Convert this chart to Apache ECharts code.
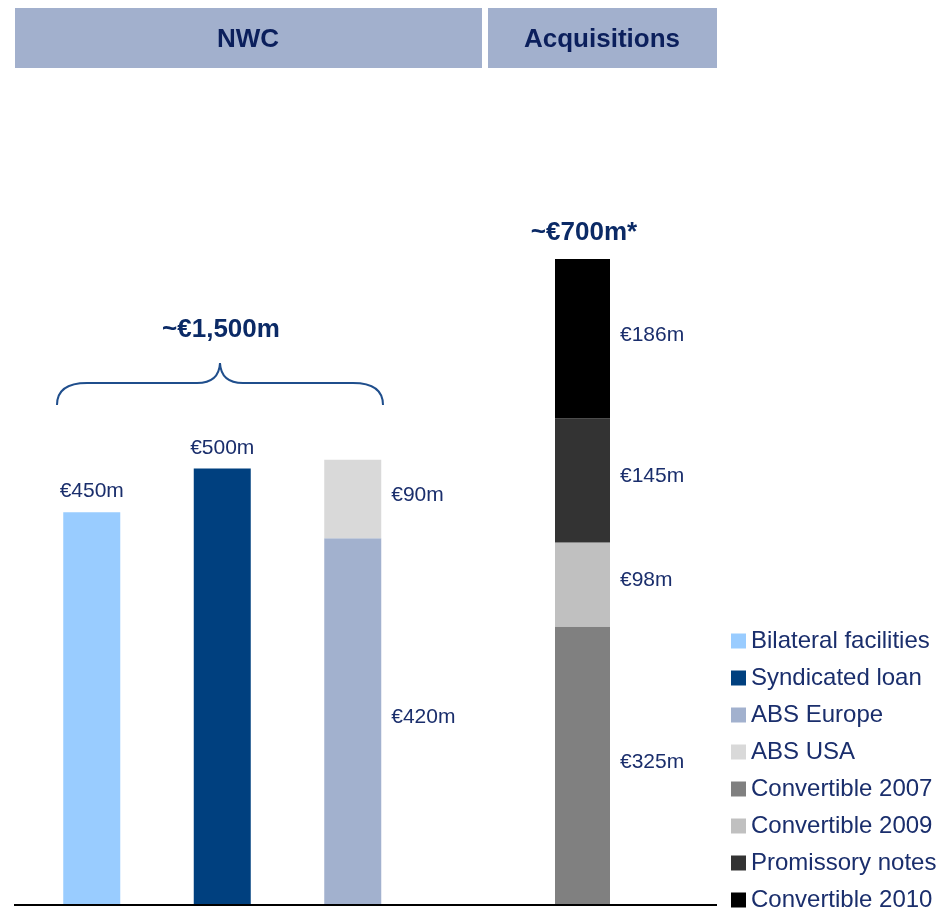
<!DOCTYPE html>
<html>
<head>
<meta charset="utf-8">
<script src="https://cdn.jsdelivr.net/npm/echarts@6/dist/echarts.min.js"></script>
<style>
  html, body { margin: 0; padding: 0; background: #fff; }
  #chart { width: 939px; height: 909px; }
</style>
</head>
<body>
<div id="chart"></div>
<script>
// Funding sources (EUR m)
const nwcCategories = ['Bilateral', 'Syndicated', 'ABS'];
const acqCategories = ['Acquisitions'];

const bilateralFacilities = [450, '-', '-'];
const syndicatedLoan      = ['-', 500, '-'];
const absEurope           = ['-', '-', 420];
const absUsa              = ['-', '-', 90];

const convertible2007 = [325];
const convertible2009 = [98];
const promissoryNotes = [145];
const convertible2010 = [186];

const nwcTotalLabel = '~€1,500m';
const acqTotalLabel = '~€700m*';
const sectionHeaders = ['NWC', 'Acquisitions'];

const FONT = "'Liberation Sans', Arial, sans-serif";
const NAVY_TEXT = '#1a2e6c';

const chart = echarts.init(document.getElementById('chart'));

function barSeries(name, data, grid, stack, color, labelPos) {
  return {
    name: name,
    type: 'bar',
    stack: stack,
    xAxisIndex: grid,
    yAxisIndex: grid,
    data: data,
    barWidth: grid === 0 ? 57 : 55,
    itemStyle: { color: color },
    label: {
      show: true,
      position: labelPos,
      distance: 10,
      offset: labelPos === 'top' ? [0, 0] : [0, -4],
      formatter: p => '€' + p.value + 'm',
      color: NAVY_TEXT,
      fontFamily: FONT,
      fontSize: 21
    },
    emphasis: { disabled: true },
    animation: false
  };
}

const option = {
  backgroundColor: '#ffffff',
  animation: false,
  textStyle: { fontFamily: FONT },
  grid: [
    { left: 26.5, width: 391.5, top: 32, bottom: 4 },
    { left: 520, width: 125, top: 32, bottom: 4 }
  ],
  xAxis: [
    { type: 'category', gridIndex: 0, data: nwcCategories, show: false },
    { type: 'category', gridIndex: 1, data: acqCategories, show: false }
  ],
  yAxis: [
    { type: 'value', gridIndex: 0, min: 0, max: 1000, show: false },
    { type: 'value', gridIndex: 1, min: 0, max: 1019, show: false }
  ],
  legend: {
    orient: 'vertical',
    left: 731,
    top: 629,
    height: 300,
    padding: 0,
    itemWidth: 15,
    itemHeight: 15,
    itemGap: 13,
    icon: 'rect',
    selectedMode: false,
    textStyle: { color: NAVY_TEXT, fontSize: 24, fontFamily: FONT, lineHeight: 23 },
    data: ['Bilateral facilities', 'Syndicated loan', 'ABS Europe', 'ABS USA',
           'Convertible 2007', 'Convertible 2009', 'Promissory notes', 'Convertible 2010']
  },
  series: [
    barSeries('Bilateral facilities', bilateralFacilities, 0, 'nwc', '#99ccff', 'top'),
    barSeries('Syndicated loan', syndicatedLoan, 0, 'nwc', '#00407f', 'top'),
    barSeries('ABS Europe', absEurope, 0, 'nwc', '#a2b1ce', 'right'),
    barSeries('ABS USA', absUsa, 0, 'nwc', '#d9d9d9', 'right'),
    barSeries('Convertible 2007', convertible2007, 1, 'acq', '#808080', 'right'),
    barSeries('Convertible 2009', convertible2009, 1, 'acq', '#c0c0c0', 'right'),
    barSeries('Promissory notes', promissoryNotes, 1, 'acq', '#333333', 'right'),
    barSeries('Convertible 2010', convertible2010, 1, 'acq', '#000000', 'right')
  ]
};

chart.setOption(option);

// Decorations: section headers, brace over the NWC bars, totals and baseline
const baseY = chart.convertToPixel({ gridIndex: 0 }, [0, 0])[1];
const braceStyle = { fill: 'none', stroke: '#1f4e8c', lineWidth: 2 };

function curve(x1, y1, cx, cy, x2, y2) {
  return { type: 'bezierCurve', silent: true,
    shape: { x1: x1, y1: y1, x2: x2, y2: y2, cpx1: cx, cpy1: cy }, style: braceStyle };
}
function segment(x1, y1, x2, y2) {
  return { type: 'line', silent: true,
    shape: { x1: x1, y1: y1, x2: x2, y2: y2 }, style: braceStyle };
}

chart.setOption({
  graphic: [
    { type: 'rect', shape: { x: 15, y: 8, width: 467, height: 60 }, style: { fill: '#a2b0cd' }, silent: true },
    { type: 'rect', shape: { x: 488, y: 8, width: 229, height: 60 }, style: { fill: '#a2b0cd' }, silent: true },
    { type: 'text', x: 248, y: 40, silent: true,
      style: { text: sectionHeaders[0], fill: '#0b1f5c', font: 'bold 26px ' + FONT, align: 'center', verticalAlign: 'middle' } },
    { type: 'text', x: 602, y: 40, silent: true,
      style: { text: sectionHeaders[1], fill: '#0b1f5c', font: 'bold 26px ' + FONT, align: 'center', verticalAlign: 'middle' } },
    curve(57, 405, 57, 383, 87, 383),
    segment(87, 383, 197, 383),
    curve(197, 383, 219, 383, 220, 363),
    curve(220, 363, 221, 383, 243, 383),
    segment(243, 383, 353, 383),
    curve(353, 383, 383, 383, 383, 405),
    { type: 'text', x: 221, y: 330, silent: true,
      style: { text: nwcTotalLabel, fill: '#0b2a66', font: 'bold 26px ' + FONT, align: 'center', verticalAlign: 'middle' } },
    { type: 'text', x: 584, y: 233, silent: true,
      style: { text: acqTotalLabel, fill: '#0b2a66', font: 'bold 26px ' + FONT, align: 'center', verticalAlign: 'middle' } },
    { type: 'line', silent: true, z: 10,
      shape: { x1: 14, y1: baseY, x2: 717, y2: baseY },
      style: { stroke: '#000000', lineWidth: 2 } }
  ]
});
</script>
</body>
</html>
